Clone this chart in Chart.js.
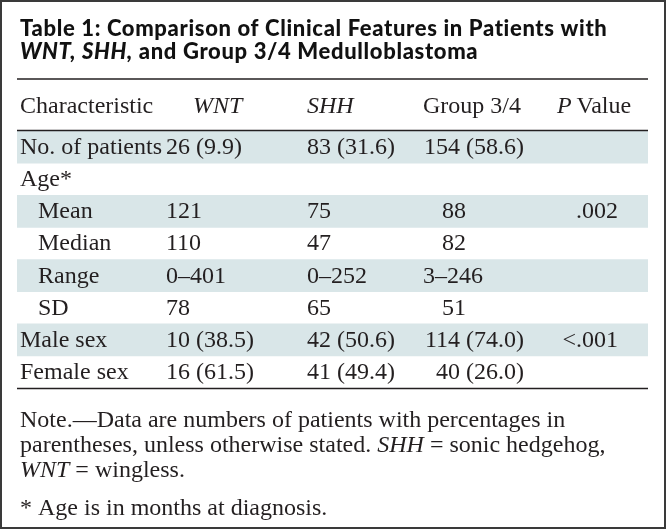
<!DOCTYPE html>
<html>
<head>
<meta charset="utf-8">
<script src="https://cdn.jsdelivr.net/npm/chart.js@4.4.1/dist/chart.umd.min.js"></script>
<style>
  html, body { margin: 0; padding: 0; background: #fff; }
  #wrap { position: relative; width: 666px; height: 529px; }
</style>
</head>
<body>
<div id="wrap"><canvas id="tabla"></canvas></div>
<script>
// =====================================================
// DATOS
// =====================================================

const rowLabels = ['No. of patients', 'Age*', 'Mean', 'Median', 'Range', 'SD', 'Male sex', 'Female sex']
const rowIndent = [0, 0, 1, 1, 1, 1, 0, 0]
const rowShaded = [1, 0, 1, 0, 1, 0, 1, 0]

const wntValues   = ['26 (9.9)', '', '121', '110', '0–401', '78', '10 (38.5)', '16 (61.5)']
const shhValues   = ['83 (31.6)', '', '75', '47', '0–252', '65', '42 (50.6)', '41 (49.4)']
const groupValues = ['154 (58.6)', '', '88', '82', '3–246', '51', '114 (74.0)', '40 (26.0)']
const pValues     = ['', '', '.002', '', '', '', '<.001', '']

const titleLines = [
  [{ t: 'Table 1: Comparison of Clinical Features in Patients with' }],
  [{ t: 'WNT,', i: true }, { t: ' ' }, { t: 'SHH,', i: true }, { t: ' and Group 3/4 Medulloblastoma' }]
]

const headerCells = [
  [{ t: 'Characteristic' }],
  [{ t: 'WNT', i: true }],
  [{ t: 'SHH', i: true }],
  [{ t: 'Group 3/4' }],
  [{ t: 'P', i: true }, { t: '\u2009Value' }]
]

const noteLines = [
  [{ t: 'Note.—Data are numbers of patients with percentages in' }],
  [{ t: 'parentheses, unless otherwise stated. ' }, { t: 'SHH', i: true }, { t: ' = sonic hedgehog,' }],
  [{ t: 'WNT', i: true }, { t: ' = wingless.' }]
]
const footnote = [{ t: '* Age is in months at diagnosis.' }]

// =====================================================
// ESTILO
// =====================================================

const INK    = '#231f20'
const SHADE  = '#d9e6e8'
const SERIF  = '"Liberation Serif", "Times New Roman", serif'
const SANS   = 'Lato, "Open Sans", sans-serif'
const BODY   = 24

// ── texto con tramos en cursiva ──────────────────
function richWidth(ctx, segs, size, family, weight) {
  return segs.reduce((w, s) => {
    ctx.font = `${s.i ? 'italic ' : ''}${weight} ${size}px ${family}`
    return w + ctx.measureText(s.t).width
  }, 0)
}

function drawRich(ctx, segs, x, y, size, family, weight = 'normal', align = 'left') {
  let cx = x
  if (align === 'right') cx = x - richWidth(ctx, segs, size, family, weight)
  segs.forEach(s => {
    ctx.font = `${s.i ? 'italic ' : ''}${weight} ${size}px ${family}`
    ctx.fillText(s.t, cx, y)
    cx += ctx.measureText(s.t).width
  })
}

function hline(ctx, x1, x2, y, w) {
  ctx.beginPath()
  ctx.lineWidth = w
  ctx.strokeStyle = INK
  ctx.moveTo(x1, y)
  ctx.lineTo(x2, y)
  ctx.stroke()
}

// =====================================================
// PLUGIN: textos de la tabla
// =====================================================

const tablaTexto = {
  id: 'tablaTexto',
  afterDraw(chart) {
    const { ctx, chartArea: a, scales: { y } } = chart
    const colX = [20, 166, 307, 423, 618]

    ctx.save()
    ctx.fillStyle = '#111'
    ctx.textBaseline = 'alphabetic'

    // título (sans negrita, algo espaciado)
    ctx.letterSpacing = '0.65px'
    titleLines.forEach((segs, k) =>
      drawRich(ctx, segs, 20, 36 + k * 23, 22, SANS, '900'))
    ctx.letterSpacing = '0px'

    ctx.fillStyle = INK
    hline(ctx, a.left, a.right, 79, 1.5)

    // cabecera
    const hx = [20, 193, 307, 423, 557]
    headerCells.forEach((segs, k) => drawRich(ctx, segs, hx[k], 113, BODY, SERIF))

    hline(ctx, a.left, a.right, a.top - 0.5, 1.5)

    // filas
    rowLabels.forEach((lab, i) => {
      const yb = y.getPixelForValue(i) + 7
      ctx.font = `${BODY}px ${SERIF}`
      ctx.textAlign = 'left'
      ctx.fillText(lab, colX[0] + rowIndent[i] * 18, yb)
      ctx.fillText(wntValues[i], colX[1], yb)
      ctx.fillText(shhValues[i], colX[2], yb)

      // Group 3/4: primer número alineado a la derecha
      const g = groupValues[i]
      const first = g.split(' ')[0]
      if (/^\d+$/.test(first)) {
        const right = g.includes('(') ? 460 : 466
        ctx.fillText(g, right - ctx.measureText(first).width, yb)
      } else {
        ctx.fillText(g, colX[3], yb)
      }

      ctx.textAlign = 'right'
      ctx.fillText(pValues[i], colX[4], yb)
    })
    ctx.textAlign = 'left'

    hline(ctx, a.left, a.right, a.bottom + 0.5, 1.5)

    // notas
    noteLines.forEach((segs, k) =>
      drawRich(ctx, segs, 20, 427 + k * 25, BODY, SERIF))
    drawRich(ctx, footnote, 20, 515, BODY, SERIF)

    // marco
    ctx.lineWidth = 2
    ctx.strokeStyle = '#3a3a3a'
    ctx.strokeRect(1, 1, chart.width - 2, chart.height - 2)

    ctx.restore()
  }
}

// =====================================================
// CHART
// =====================================================

new Chart(document.getElementById('tabla').getContext('2d'), {
  type: 'bar',
  data: {
    labels: rowLabels,
    datasets: [{
      data: rowShaded.map(s => s ? [0, 1] : null),
      backgroundColor: SHADE,
      borderWidth: 0,
      barPercentage: 1,
      categoryPercentage: 1
    }]
  },
  options: {
    indexAxis: 'y',
    responsive: true,
    maintainAspectRatio: false,
    animation: false,
    layout: { padding: { top: 131, bottom: 141, left: 17, right: 18 } },
    plugins: {
      legend: { display: false },
      tooltip: { enabled: false }
    },
    scales: {
      x: { display: false, min: 0, max: 1 },
      y: { display: false }
    }
  },
  plugins: [tablaTexto]
})
</script>
</body>
</html>
